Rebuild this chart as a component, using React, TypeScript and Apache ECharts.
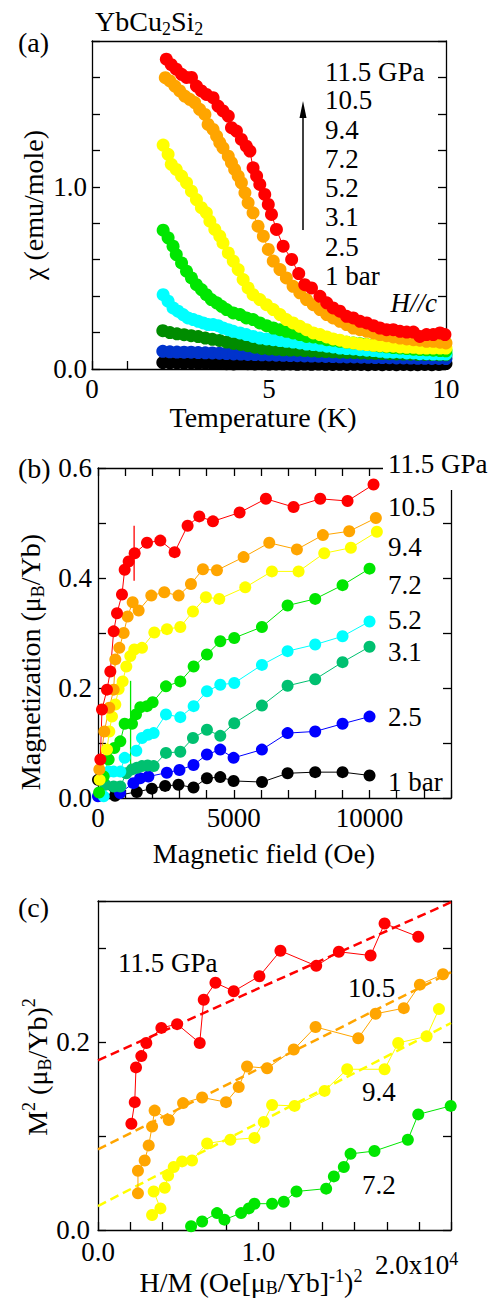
import React, { useEffect, useRef } from "react";
import * as echarts from "echarts";

// ---------- Panel (a): susceptibility vs temperature ----------
const aRed = [[2.10,1.70],[2.24,1.67],[2.38,1.645],[2.53,1.617],[2.67,1.60],[2.81,1.60],[2.95,1.553],[3.09,1.526],[3.23,1.507],[3.42,1.489],[3.56,1.443],[3.70,1.416],[3.85,1.388],[3.94,1.324],[4.08,1.306],[4.22,1.26],[4.36,1.223],[4.46,1.196],[4.55,1.104],[4.65,1.059],[4.74,1.013],[4.88,0.958],[4.98,0.903],[5.07,0.848],[5.21,0.766],[5.40,0.674],[5.64,0.601],[5.84,0.524],[6.01,0.463],[6.20,0.445],[6.44,0.399],[6.63,0.363],[6.81,0.335],[7.00,0.317],[7.19,0.289],[7.38,0.28],[7.57,0.262],[7.76,0.253],[7.95,0.238],[8.13,0.225],[8.32,0.216],[8.51,0.216],[8.70,0.207],[8.89,0.203],[9.08,0.203],[9.26,0.179],[9.45,0.189],[9.64,0.189],[9.83,0.198],[9.97,0.189]];
const aOrange = [[2.07,1.599],[2.20,1.581],[2.34,1.553],[2.48,1.526],[2.62,1.498],[2.76,1.48],[2.90,1.462],[3.04,1.425],[3.19,1.397],[3.28,1.342],[3.42,1.315],[3.52,1.278],[3.61,1.242],[3.70,1.214],[3.85,1.168],[3.94,1.132],[4.03,1.095],[4.13,1.059],[4.22,1.022],[4.32,0.967],[4.41,0.912],[4.55,0.857],[4.69,0.784],[4.84,0.729],[4.98,0.656],[5.12,0.592],[5.31,0.546],[5.49,0.50],[5.68,0.454],[5.87,0.418],[6.06,0.381],[6.25,0.353],[6.44,0.326],[6.63,0.299],[6.81,0.28],[7.00,0.262],[7.19,0.244],[7.38,0.225],[7.57,0.216],[7.76,0.207],[7.95,0.198],[8.13,0.189],[8.32,0.183],[8.51,0.176],[8.70,0.17],[8.89,0.165],[9.08,0.161],[9.26,0.158],[9.45,0.152],[9.64,0.152],[9.83,0.147],[10.0,0.143]];
const aYellow = [[2.01,1.229],[2.15,1.178],[2.24,1.123],[2.38,1.095],[2.53,1.059],[2.67,1.022],[2.81,0.976],[2.95,0.93],[3.09,0.885],[3.23,0.857],[3.33,0.811],[3.47,0.766],[3.61,0.729],[3.70,0.692],[3.85,0.637],[3.99,0.592],[4.13,0.546],[4.27,0.491],[4.41,0.445],[4.55,0.408],[4.74,0.381],[4.93,0.353],[5.12,0.326],[5.31,0.299],[5.49,0.271],[5.68,0.253],[5.87,0.234],[6.06,0.216],[6.25,0.198],[6.44,0.189],[6.63,0.176],[6.81,0.165],[7.00,0.158],[7.19,0.148],[7.38,0.143],[7.57,0.137],[7.76,0.134],[7.95,0.13],[8.13,0.128],[8.32,0.125],[8.51,0.125],[8.70,0.121],[8.89,0.119],[9.08,0.119],[9.26,0.115],[9.45,0.115],[9.64,0.115],[9.83,0.115],[10.0,0.115]];
const aGreen = [[2.01,0.762],[2.15,0.72],[2.29,0.674],[2.38,0.628],[2.53,0.582],[2.67,0.537],[2.81,0.50],[2.95,0.463],[3.09,0.436],[3.23,0.408],[3.37,0.381],[3.52,0.363],[3.66,0.344],[3.80,0.326],[3.99,0.308],[4.18,0.299],[4.36,0.28],[4.55,0.271],[4.74,0.253],[4.93,0.238],[5.12,0.225],[5.31,0.216],[5.49,0.207],[5.68,0.198],[5.87,0.189],[6.06,0.179],[6.25,0.176],[6.44,0.17],[6.63,0.161],[6.81,0.158],[7.00,0.152],[7.19,0.147],[7.38,0.143],[7.57,0.139],[7.76,0.134],[7.95,0.13],[8.13,0.126],[8.32,0.122],[8.51,0.118],[8.70,0.115],[8.89,0.112],[9.08,0.109],[9.26,0.107],[9.45,0.105],[9.64,0.103],[9.83,0.101],[10.0,0.10]];
const aCyan = [[2.01,0.408],[2.15,0.372],[2.29,0.335],[2.43,0.317],[2.57,0.299],[2.71,0.28],[2.86,0.271],[3.00,0.262],[3.14,0.253],[3.28,0.244],[3.42,0.244],[3.56,0.238],[3.70,0.225],[3.85,0.216],[3.99,0.207],[4.18,0.198],[4.36,0.189],[4.55,0.179],[4.74,0.17],[4.93,0.165],[5.12,0.161],[5.31,0.156],[5.49,0.152],[5.68,0.148],[5.87,0.143],[6.06,0.137],[6.25,0.134],[6.44,0.13],[6.63,0.125],[6.81,0.121],[7.00,0.115],[7.19,0.112],[7.38,0.11],[7.57,0.106],[7.76,0.103],[7.95,0.101],[8.13,0.097],[8.32,0.093],[8.51,0.092],[8.70,0.092],[8.89,0.088],[9.08,0.088],[9.26,0.084],[9.45,0.084],[9.64,0.082],[9.83,0.082],[10.0,0.082]];
const aLowT = [2.0,2.2,2.4,2.6,2.8,3.0,3.2,3.4,3.6,3.8,4.0,4.2,4.4,4.6,4.8,5.0,5.2,5.4,5.6,5.8,6.0,6.2,6.4,6.6,6.8,7.0,7.2,7.4,7.6,7.8,8.0,8.2,8.4,8.6,8.8,9.0,9.2,9.4,9.6,9.8,10.0];
const aDarkGreenChi = [0.210,0.200,0.193,0.188,0.183,0.178,0.170,0.163,0.157,0.148,0.140,0.135,0.128,0.120,0.113,0.110,0.108,0.105,0.104,0.103,0.101,0.099,0.097,0.096,0.094,0.092,0.091,0.090,0.088,0.087,0.086,0.085,0.084,0.083,0.082,0.081,0.080,0.080,0.079,0.078,0.078];
const aBlueChi = [0.097,0.094,0.093,0.092,0.092,0.090,0.089,0.088,0.087,0.085,0.083,0.082,0.080,0.079,0.078,0.077,0.076,0.075,0.074,0.073,0.072,0.071,0.070,0.069,0.068,0.067,0.066,0.066,0.065,0.064,0.063,0.063,0.062,0.061,0.061,0.060,0.059,0.059,0.058,0.058,0.057];
const aBlackChi = [0.035,0.033,0.034,0.032,0.033,0.031,0.032,0.030,0.031,0.029,0.028,0.030,0.029,0.028,0.029,0.027,0.028,0.027,0.028,0.026,0.027,0.026,0.027,0.026,0.025,0.026,0.025,0.026,0.025,0.024,0.025,0.024,0.025,0.024,0.025,0.024,0.024,0.025,0.024,0.025,0.030];
const aLegend = ["11.5 GPa", "10.5", "9.4", "7.2", "5.2", "3.1", "2.5", "1 bar"];
const aXTickValues = [0, 5, 10];
const aXTickLabels = ["0", "5", "10"];
const aYTickValues = [0, 1.0];
const aYTickLabels = ["0.0", "1.0"];

// ---------- Panel (b): magnetization vs field ----------
const bRed = [[86,0.070],[147,0.161],[331,0.197],[454,0.230],[577,0.303],[700,0.336],[883,0.370],[982,0.415],[1129,0.430],[1350,0.445],[1804,0.464],[2295,0.468],[2822,0.447],[3300,0.495],[3730,0.512],[4233,0.503],[5215,0.519],[6184,0.544],[7202,0.529],[8184,0.544],[9190,0.540],[10147,0.570]];
const bOrange = [[49,0.052],[233,0.121],[417,0.164],[577,0.197],[638,0.252],[785,0.273],[945,0.300],[1092,0.330],[1276,0.356],[1497,0.341],[1963,0.368],[2442,0.374],[2969,0.368],[3423,0.389],[3865,0.416],[4380,0.414],[5362,0.438],[6307,0.464],[7325,0.452],[8282,0.478],[9251,0.485],[10233,0.509]];
const bYellow = [[61,0.033],[331,0.088],[417,0.121],[515,0.148],[638,0.170],[760,0.198],[908,0.212],[1043,0.239],[1190,0.258],[1337,0.270],[1620,0.273],[2074,0.301],[2540,0.307],[3031,0.311],[3497,0.339],[3975,0.365],[4466,0.362],[5423,0.383],[6405,0.412],[7387,0.412],[8331,0.445],[9313,0.455],[10270,0.484]];
const bGreen = [[40,0.010],[209,0.039],[393,0.070],[601,0.091],[822,0.103],[982,0.135],[1252,0.135],[1399,0.152],[1558,0.165],[1804,0.167],[2012,0.174],[2503,0.203],[3031,0.212],[3522,0.239],[4012,0.261],[4503,0.285],[5018,0.291],[6037,0.311],[6982,0.350],[7999,0.362],[9006,0.387],[10000,0.417]];
const bCyan = [[209,0.003],[393,0.048],[577,0.048],[822,0.048],[982,0.073],[1411,0.086],[1620,0.109],[1841,0.115],[2049,0.118],[2503,0.152],[3031,0.147],[3522,0.167],[4012,0.194],[4503,0.206],[5018,0.209],[6037,0.242],[6982,0.267],[7999,0.279],[9006,0.294],[10000,0.321]];
const bSeaGreen = [[270,0.024],[577,0.021],[822,0.021],[1043,0.045],[1252,0.052],[1436,0.055],[1620,0.058],[1828,0.059],[2049,0.058],[2503,0.082],[3031,0.084],[3497,0.109],[4012,0.124],[4503,0.113],[5018,0.136],[6037,0.168],[6982,0.204],[7999,0.216],[9006,0.247],[10000,0.275]];
const bBlue = [[0,0.003],[812,0.009],[1303,0.027],[1550,0.036],[1856,0.039],[2535,0.046],[3000,0.051],[3517,0.060],[4011,0.079],[4502,0.088],[4993,0.073],[6037,0.088],[6982,0.118],[7999,0.121],[9006,0.135],[10000,0.148]];
const bBlack = [[0,0.033],[627,0.004],[1428,0.011],[1981,0.017],[2472,0.022],[2963,0.024],[3517,0.019],[4011,0.036],[4502,0.038],[4993,0.031],[6040,0.029],[6982,0.045],[7999,0.047],[9006,0.047],[10000,0.041]];
const bMarkRed = [[1330,0.395],[1330,0.495]];
const bMarkGreen = [[1200,0.048],[1200,0.213]];
const bLegend = ["11.5 GPa", "10.5", "9.4", "7.2", "5.2", "3.1", "2.5", "1 bar"];
const bXTickValues = [0, 5000, 10000];
const bXTickLabels = ["0", "5000", "10000"];
const bYTickValues = [0, 0.2, 0.4, 0.6];
const bYTickLabels = ["0.0", "0.2", "0.4", "0.6"];

// ---------- Panel (c): Arrott plot ----------
const cRed = [[0.208,0.113],[0.229,0.136],[0.237,0.173],[0.270,0.185],[0.301,0.199],[0.395,0.215],[0.493,0.219],[0.634,0.199],[0.659,0.245],[0.732,0.263],[0.846,0.254],[1.006,0.270],[1.137,0.297],[1.360,0.281],[1.501,0.296],[1.699,0.292],[1.786,0.326],[1.996,0.312]];
const cOrange = [[0.249,0.039],[0.249,0.063],[0.291,0.074],[0.316,0.090],[0.337,0.110],[0.353,0.127],[0.441,0.117],[0.530,0.135],[0.649,0.141],[0.798,0.136],[0.877,0.152],[0.929,0.174],[1.054,0.172],[1.220,0.192],[1.356,0.216],[1.622,0.204],[1.730,0.230],[1.906,0.236],[2.006,0.261],[2.150,0.272]];
const cYellow = [[0.337,0.016],[0.389,0.023],[0.347,0.041],[0.416,0.045],[0.437,0.058],[0.472,0.067],[0.524,0.073],[0.586,0.074],[0.680,0.092],[0.825,0.096],[0.975,0.098],[1.033,0.115],[1.085,0.133],[1.225,0.132],[1.412,0.148],[1.553,0.171],[1.786,0.171],[1.871,0.199],[2.048,0.206],[2.125,0.235]];
const cGreen = [[0.580,0.004],[0.649,0.009],[0.742,0.018],[0.788,0.011],[0.892,0.018],[0.940,0.023],[0.975,0.028],[1.085,0.028],[1.158,0.030],[1.237,0.041],[1.422,0.044],[1.470,0.057],[1.532,0.067],[1.574,0.081],[1.723,0.084],[1.931,0.096],[1.996,0.123],[2.198,0.132]];
const cFitRed = [[0, 0.1805], [2.2, 0.3487]];
const cFitOrange = [[0, 0.0857], [2.2, 0.2743]];
const cFitYellow = [[0, 0.0255], [2.2, 0.2202]];
const cXTickValues = [0, 1.0];
const cXTickLabels = ["0.0", "1.0"];
const cXEndLabel = "2.0x10{p|4}";
const cYTickValues = [0, 0.2];
const cYTickLabels = ["0.0", "0.2"];

const FONT = "Liberation Serif";
const C = {
  red: "#ff0000", orange: "#ffa500", yellow: "#ffff00", green: "#00e600",
  cyan: "#00ffff", darkGreen: "#008c00", seaGreen: "#00c070", blueA: "#0033cc",
  blueB: "#0000ff", black: "#000000",
};

const fmt = (vals: number[], labels: string[]) => (v: number) => {
  const i = vals.findIndex((t) => Math.abs(t - v) < 1e-6);
  return i >= 0 ? labels[i] : "";
};

const rich = {
  s: { fontSize: 18, fontFamily: FONT, fill: "#000", color: "#000", verticalAlign: "bottom", lineHeight: 18 },
  p: { fontSize: 18, fontFamily: FONT, fill: "#000", color: "#000", verticalAlign: "top", lineHeight: 18 },
};

function txt(x: number, y: number, text: string, o: any = {}) {
  const align = o.align || "left";
  return {
    type: "text", x, y, z: 100, silent: true,
    rotation: o.rotation || 0,
    style: {
      text, fontSize: o.size || 27, fontFamily: FONT, fill: "#000",
      fontStyle: o.italic ? "italic" : "normal",
      align, textAlign: align, verticalAlign: "middle", textVerticalAlign: "middle",
      lineHeight: o.lineHeight || 34, rich,
      backgroundColor: o.bg, padding: o.padding,
    },
  };
}

function axisBase(grid: number, pos: string, min: number, max: number, interval: number, ticks: boolean, labels: any, margin = 8) {
  return {
    type: "value", gridIndex: grid, position: pos, min, max, interval,
    axisLine: { show: true, onZero: false, lineStyle: { color: "#000", width: 1.3 } },
    axisTick: { show: ticks, inside: true, length: 8, lineStyle: { color: "#000", width: 1.3 } },
    axisLabel: labels
      ? { show: true, formatter: labels, fontFamily: FONT, fontSize: 27, color: "#000", margin, showMinLabel: true, showMaxLabel: true, hideOverlap: false }
      : { show: false },
    splitLine: { show: false },
  };
}

function lineSeries(x: number, y: number, data: any, color: string, size: number) {
  return {
    type: "line", xAxisIndex: x, yAxisIndex: y, data, symbol: "circle", symbolSize: size,
    showAllSymbol: true, silent: true,
    itemStyle: { color, opacity: 1 }, lineStyle: { color, width: 1 },
  };
}

function fitSeries(data: any, color: string) {
  return {
    type: "line", xAxisIndex: 4, yAxisIndex: 4, data, symbol: "none", silent: true,
    lineStyle: { color, width: 2.5, type: [9, 5] }, z: 1,
  };
}

export default function App() {
  const ref = useRef<HTMLDivElement>(null);
  useEffect(() => {
    if (!ref.current) return;
    const chart = echarts.init(ref.current, undefined, { renderer: "svg" });
    const zip = (xs: number[], ys: number[]) => xs.map((x, i) => [x, ys[i]]);
    const aY0 = [72, 100, 130, 159, 188, 217, 247, 276];
    const bY0 = [468, 507, 547, 585, 620, 652, 717, 782];
    const option: any = {
      animation: false,
      backgroundColor: "#ffffff",
      grid: [
        { left: 92, top: 41, width: 354, height: 328 },
        { left: 98, top: 468, width: 353, height: 330 },
        { left: 98, top: 901, width: 353, height: 329 },
      ],
      xAxis: [
        axisBase(0, "bottom", 0, 10, 1, true, fmt(aXTickValues, aXTickLabels), 6),
        axisBase(0, "top", 0, 10, 1, false, null),
        axisBase(1, "bottom", 0, 13000, 1000, true, fmt(bXTickValues, bXTickLabels), 6),
        axisBase(1, "top", 0, 13000, 1000, true, null),
        axisBase(2, "bottom", 0, 2.2, 0.2, true, fmt(cXTickValues, cXTickLabels), 8),
        axisBase(2, "top", 0, 2.2, 0.2, false, null),
      ],
      yAxis: [
        axisBase(0, "left", 0, 1.8, 0.2, true, fmt(aYTickValues, aYTickLabels), 5),
        axisBase(0, "right", 0, 1.8, 0.2, true, null),
        axisBase(1, "left", 0, 0.6, 0.1, true, fmt(bYTickValues, bYTickLabels), 6),
        axisBase(1, "right", 0, 0.6, 0.1, true, null),
        axisBase(2, "left", 0, 0.35, 0.1, true, fmt(cYTickValues, cYTickLabels), 8),
        axisBase(2, "right", 0, 0.35, 0.1, true, null),
      ],
      series: [
        lineSeries(0, 0, zip(aLowT, aBlackChi), C.black, 13),
        lineSeries(0, 0, zip(aLowT, aBlueChi), C.blueA, 13),
        lineSeries(0, 0, zip(aLowT, aDarkGreenChi), C.darkGreen, 13),
        lineSeries(0, 0, aCyan, C.cyan, 13),
        lineSeries(0, 0, aGreen, C.green, 13),
        lineSeries(0, 0, aYellow, C.yellow, 13),
        lineSeries(0, 0, aOrange, C.orange, 13),
        lineSeries(0, 0, aRed, C.red, 13),

        lineSeries(2, 2, bBlack, C.black, 12),
        lineSeries(2, 2, bBlue, C.blueB, 12),
        lineSeries(2, 2, bSeaGreen, C.seaGreen, 12),
        lineSeries(2, 2, bCyan, C.cyan, 12),
        lineSeries(2, 2, bGreen, C.green, 12),
        lineSeries(2, 2, bYellow, C.yellow, 12),
        lineSeries(2, 2, bOrange, C.orange, 12),
        lineSeries(2, 2, bRed, C.red, 12),
        { type: "line", xAxisIndex: 2, yAxisIndex: 2, data: bMarkRed, symbol: "none", silent: true, lineStyle: { color: C.red, width: 1.3 } },
        { type: "line", xAxisIndex: 2, yAxisIndex: 2, data: bMarkGreen, symbol: "none", silent: true, lineStyle: { color: C.green, width: 1.3 } },

        fitSeries(cFitYellow, C.yellow),
        fitSeries(cFitOrange, C.orange),
        fitSeries(cFitRed, C.red),
        lineSeries(4, 4, cGreen, C.green, 12),
        lineSeries(4, 4, cYellow, C.yellow, 12),
        lineSeries(4, 4, cOrange, C.orange, 12),
        lineSeries(4, 4, cRed, C.red, 12),
      ],
      graphic: [
        txt(95, 21, "YbCu{s|2}Si{s|2}", { size: 28 }),
        txt(18, 42, "(a)", { size: 28 }),
        txt(33, 205, "χ (emu/mole)", { size: 28, align: "center", rotation: Math.PI / 2 }),
        txt(263, 417, "Temperature (K)", { size: 28, align: "center", lineHeight: 22 }),
        ...aLegend.map((t, i) => txt(325, aY0[i], t, { lineHeight: 28 })),
        txt(437, 303, "H//c", { italic: true, align: "right" }),
        { type: "line", z: 100, silent: true, shape: { x1: 303, y1: 230, x2: 303, y2: 114 }, style: { stroke: "#000", lineWidth: 1.5 } },
        { type: "polygon", z: 100, silent: true, shape: { points: [[303, 101], [299.5, 118], [306.5, 118]] }, style: { fill: "#000" } },

        txt(18, 468, "(b)", { size: 28 }),
        txt(30, 662, "Magnetization (μ{s|B}/Yb)", { size: 28, align: "center", rotation: Math.PI / 2 }),
        txt(264, 853, "Magnetic field (Oe)", { size: 28, align: "center", lineHeight: 24 }),
        txt(383, bY0[0], bLegend[0], { bg: "#ffffff", padding: [4, 20, 12, 5], lineHeight: 28 }),
        ...bLegend.slice(1).map((t, i) => txt(388, bY0[i + 1], t, { lineHeight: 28 })),

        txt(18, 907, "(c)", { size: 28 }),
        txt(37, 1067, "M{p|2} (μ{s|B}/Yb){p|2}", { size: 28, align: "center", rotation: Math.PI / 2 }),
        txt(251, 1282, "H/M (Oe[μ{s|B}/Yb]{p|-1}){p|2}", { size: 28, align: "center", lineHeight: 30 }),
        txt(375, 1265, cXEndLabel, { lineHeight: 30 }),
        txt(118, 963, "11.5 GPa", { lineHeight: 28 }),
        txt(348, 988, "10.5", { lineHeight: 28 }),
        txt(362, 1092, "9.4", { lineHeight: 28 }),
        txt(362, 1185, "7.2", { lineHeight: 28 }),
      ],
    };
    chart.setOption(option);
    return () => chart.dispose();
  }, []);
  return (
    <div
      ref={ref}
      style={{ position: "absolute", left: 0, top: 0, width: 499, height: 1300, background: "#fff" }}
    />
  );
}
